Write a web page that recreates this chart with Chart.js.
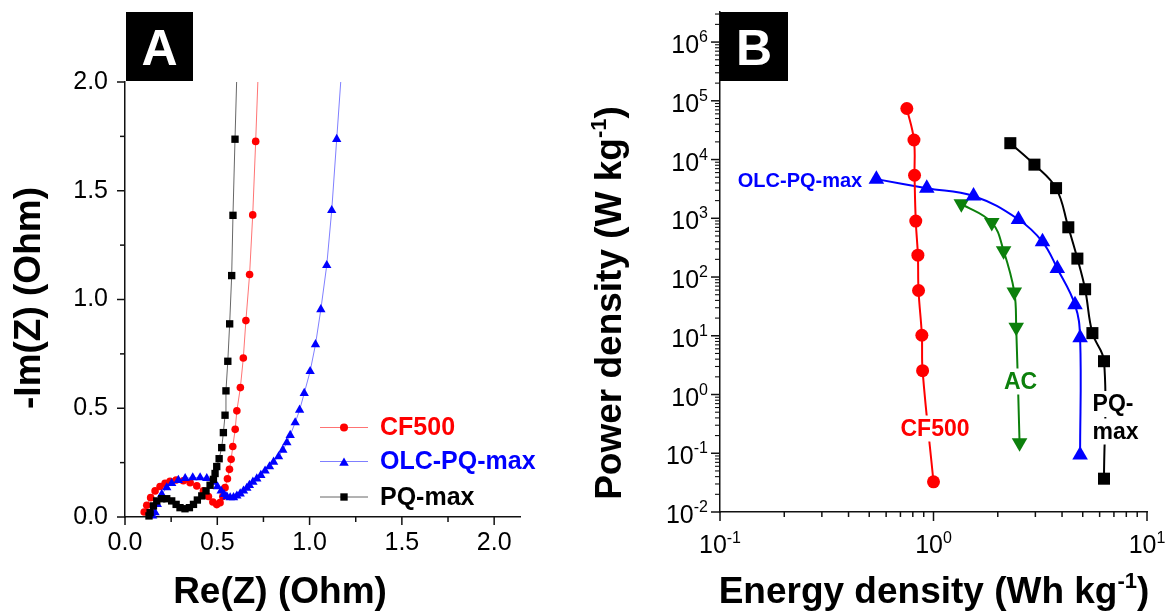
<!DOCTYPE html>
<html><head><meta charset="utf-8">
<script src="https://cdn.jsdelivr.net/npm/chart.js@4/dist/chart.umd.min.js"></script>
<style>
html,body{margin:0;padding:0;background:#fff;}
#wrap{position:relative;width:1170px;height:614px;overflow:hidden;background:#fff;}
#ca{position:absolute;left:0;top:0;}
#cb{position:absolute;left:560px;top:0;}
</style></head><body>
<div id="wrap"><canvas id="ca" width="560" height="614"></canvas><canvas id="cb" width="610" height="614"></canvas></div>
<script>
// ---------- Panel A : Nyquist data (Ohm) ----------
const cfRe = [0.104,0.118,0.139,0.163,0.190,0.217,0.244,0.277,0.316,0.353,0.389,0.425,0.452,0.476,0.497,0.515,0.530,0.542,0.555,0.566,0.575,0.584,0.597,0.606,0.625,0.641,0.655,0.675,0.692,0.708,0.724];
const cfIm = [0.023,0.054,0.089,0.120,0.140,0.155,0.164,0.170,0.167,0.158,0.143,0.120,0.094,0.069,0.057,0.066,0.094,0.135,0.176,0.219,0.265,0.324,0.403,0.488,0.595,0.731,0.903,1.115,1.389,1.727,2.100];
const olcRe = [0.150,0.163,0.175,0.199,0.226,0.253,0.289,0.326,0.367,0.407,0.443,0.479,0.501,0.521,0.537,0.552,0.570,0.588,0.606,0.624,0.642,0.660,0.674,0.693,0.714,0.736,0.759,0.783,0.805,0.832,0.855,0.877,0.895,0.922,0.946,0.971,1.003,1.032,1.061,1.093,1.120,1.147,1.177];
const olcIm = [0.005,0.020,0.058,0.104,0.135,0.155,0.169,0.178,0.181,0.181,0.178,0.161,0.140,0.120,0.104,0.094,0.089,0.090,0.097,0.107,0.120,0.133,0.146,0.161,0.176,0.192,0.212,0.232,0.253,0.278,0.308,0.342,0.376,0.434,0.492,0.569,0.670,0.793,0.954,1.157,1.410,1.737,2.100];
const pqRe = [0.130,0.136,0.154,0.172,0.199,0.226,0.253,0.277,0.298,0.325,0.349,0.371,0.392,0.416,0.439,0.461,0.479,0.488,0.497,0.510,0.524,0.533,0.542,0.547,0.557,0.567,0.578,0.585,0.596,0.608];
const pqIm = [0.005,0.020,0.051,0.074,0.084,0.084,0.074,0.058,0.043,0.038,0.043,0.058,0.078,0.097,0.120,0.146,0.173,0.200,0.232,0.268,0.319,0.388,0.468,0.580,0.716,0.888,1.110,1.387,1.737,2.100];
const aSeriesNames = ['CF500','OLC-PQ-max','PQ-max'];
const aTickLabels = ['0.0','0.5','1.0','1.5','2.0'];
const aMinorStep = 0.25;

// ---------- Panel B : Ragone data ----------
const cfE = [0.75,0.81,0.815,0.826,0.845,0.851,0.882,0.889,1.0];
const cfP = [7.4e4,2.15e4,5.4e3,898,236,59,10.2,2.55,0.0326];
const olcE = [0.54,0.93,1.54,2.50,3.24,3.80,4.60,4.86,4.86];
const olcP = [4640,3260,2400,955,398,140,33.6,9.26,0.093];
const acE = [1.35,1.875,2.13,2.39,2.44,2.53];
const acP = [1765,845,280,55.8,14.0,0.151];
const pqE = [2.29,2.97,3.75,4.28,4.72,5.13,5.55,6.29,6.29];
const pqP = [1.9e4,8190,3260,703,206,62,11.1,3.69,0.0369];
const bXExponents = [-1,0,1];
const bYExponents = [-2,-1,0,1,2,3,4,5,6];
const bLabels = ['OLC-PQ-max','CF500','AC','PQ-','max'];

// ---------- styling ----------
const FONT = '"Liberation Sans", Arial, Helvetica, sans-serif';
Chart.defaults.font.family = FONT;
const RED = '#ff0000', BLUE = '#0000ff', BLACK = '#000000', GREEN = '#0c800c';
const xy = (xs, ys) => xs.map((x, i) => ({x, y: ys[i]}));

function marker(ctx, style, x, y, r, color, rot) {
  ctx.save(); ctx.fillStyle = color; ctx.beginPath();
  if (style === 'circle') { ctx.arc(x, y, r, 0, Math.PI * 2); }
  else if (style === 'rect') { const s = r * Math.SQRT1_2; ctx.rect(x - s, y - s, 2 * s, 2 * s); }
  else { let a = (rot || 0) * Math.PI / 180;
    ctx.moveTo(x + Math.sin(a) * r, y - Math.cos(a) * r);
    a += 2 * Math.PI / 3; ctx.lineTo(x + Math.sin(a) * r, y - Math.cos(a) * r);
    a += 2 * Math.PI / 3; ctx.lineTo(x + Math.sin(a) * r, y - Math.cos(a) * r); ctx.closePath(); }
  ctx.fill(); ctx.restore();
}
function drawRich(ctx, parts, cx, baseY, baseFont, supFont, raise, color, align) {
  ctx.fillStyle = color; ctx.textBaseline = 'alphabetic'; ctx.textAlign = 'left';
  let total = 0;
  const ws = parts.map(p => { ctx.font = p.sup ? supFont : baseFont; const w = ctx.measureText(p.t).width; total += w; return w; });
  let x = align === 'center' ? cx - total / 2 : (align === 'right' ? cx - total : cx);
  parts.forEach((p, i) => { ctx.font = p.sup ? supFont : baseFont; ctx.fillText(p.t, x, p.sup ? baseY - raise : baseY); x += ws[i]; });
}
function seg(ctx, x1, y1, x2, y2) { ctx.beginPath(); ctx.moveTo(x1, y1); ctx.lineTo(x2, y2); ctx.stroke(); }
function panelBox(ctx, x, y, w, h, letter) {
  ctx.fillStyle = '#000'; ctx.fillRect(x, y, w, h);
  ctx.fillStyle = '#fff'; ctx.font = 'bold 50px ' + FONT; ctx.textAlign = 'center'; ctx.textBaseline = 'alphabetic';
  ctx.fillText(letter, x + w / 2, y + h / 2 + 18);
}

// ---------- Chart A ----------
const plugA = {
  id: 'decorA',
  afterDraw(chart) {
    const ctx = chart.ctx, xs = chart.scales.x, ys = chart.scales.y, ca = chart.chartArea;
    ctx.save();
    ctx.strokeStyle = '#111'; ctx.lineWidth = 1.5;
    const nx = Math.round(2.0 / aMinorStep);
    for (let i = 0; i <= nx; i++) {
      const v = i * aMinorStep, len = (i % 2 === 0) ? 8 : 5;
      const px = xs.getPixelForValue(v); seg(ctx, px, ca.bottom, px, ca.bottom + len);
      const py = ys.getPixelForValue(v); seg(ctx, ca.left, py, ca.left - len, py);
    }
    // legend
    const rows = [427.5, 461.5, 497];
    const cols = [RED, BLUE, BLACK], lcols = ['rgba(255,0,0,0.55)', 'rgba(0,0,255,0.5)', 'rgba(0,0,0,0.6)'];
    const styles = ['circle', 'triangle', 'rect'], rads = [4, 5.5, 5.2];
    aSeriesNames.forEach((name, i) => {
      ctx.strokeStyle = lcols[i]; ctx.lineWidth = 1; seg(ctx, 320, rows[i], 368, rows[i]);
      marker(ctx, styles[i], 344, rows[i] + (styles[i] === 'triangle' ? 1.5 : 0), rads[i], cols[i], 0);
      ctx.fillStyle = cols[i]; ctx.font = 'bold 25px ' + FONT; ctx.textAlign = 'left'; ctx.textBaseline = 'middle';
      ctx.fillText(name, 380, rows[i] + 1);
    });
    // titles
    drawRich(ctx, [{t: 'Re(Z) (Ohm)'}], 280, 603, 'bold 37px ' + FONT, 'bold 22px ' + FONT, 14, '#000', 'center');
    ctx.save(); ctx.translate(40, 298); ctx.rotate(-Math.PI / 2);
    drawRich(ctx, [{t: '-Im(Z) (Ohm)'}], 0, 0, 'bold 37px ' + FONT, 'bold 22px ' + FONT, 14, '#000', 'center');
    ctx.restore();
    panelBox(ctx, 126, 12, 67, 69, 'A');
    ctx.restore();
  }
};
const aLine = (data, lc, pc, style, r) => ({
  data, showLine: true, borderColor: lc, borderWidth: 1, tension: 0,
  pointStyle: style, pointRadius: r, pointBackgroundColor: pc, pointBorderColor: pc, pointBorderWidth: 0,
  clip: {left: 10, right: 10, top: 0, bottom: 10}
});
new Chart(document.getElementById('ca'), {
  type: 'scatter',
  data: { datasets: [
    aLine(xy(pqRe, pqIm), 'rgba(0,0,0,0.6)', BLACK, 'rect', 5.2),
    aLine(xy(olcRe, olcIm), 'rgba(0,0,255,0.5)', BLUE, 'triangle', 5.4),
    aLine(xy(cfRe, cfIm), 'rgba(255,0,0,0.55)', RED, 'circle', 3.8)
  ]},
  options: {
    responsive: false, animation: false, events: [],
    layout: { padding: {top: 82, right: 40, left: 0, bottom: 0} },
    plugins: { legend: {display: false}, tooltip: {enabled: false} },
    scales: {
      x: { type: 'linear', min: 0, max: 2.14,
        ticks: { stepSize: 0.5, includeBounds: false, autoSkip: false, maxRotation: 0, padding: 11,
          font: {size: 25, family: FONT}, color: '#000',
          callback: (v) => { const i = Math.round(v / 0.5); return Math.abs(v - i * 0.5) < 1e-6 ? aTickLabels[i] : ''; } },
        grid: { display: false, drawTicks: false, tickLength: 0 },
        border: { display: true, color: '#111', width: 1.5 },
        afterFit(s) { s.height = 97; } },
      y: { type: 'linear', min: 0, max: 2.0,
        ticks: { stepSize: 0.5, autoSkip: false, padding: 17, font: {size: 25, family: FONT}, color: '#000',
          callback: (v) => { const i = Math.round(v / 0.5); return Math.abs(v - i * 0.5) < 1e-6 ? aTickLabels[i] : ''; } },
        grid: { display: false, drawTicks: false, tickLength: 0 },
        border: { display: true, color: '#111', width: 1.5 },
        afterFit(s) { s.width = 125; } }
    }
  },
  plugins: [plugA]
});

// ---------- Chart B ----------
const OFFB = 560;
const plugB = {
  id: 'decorB',
  afterDatasetsDraw(chart) {
    const ctx = chart.ctx;
    const items = [
      {t: bLabels[0], x: 800, y: 180, c: BLUE, f: 'bold 20px '},
      {t: bLabels[1], x: 935, y: 428.5, c: RED, f: 'bold 23px '},
      {t: bLabels[2], x: 1020.5, y: 381.5, c: GREEN, f: 'bold 23px '},
      {t: bLabels[3], x: 1113, y: 404, c: BLACK, f: 'bold 23px '},
      {t: bLabels[4], x: 1115.5, y: 431.5, c: BLACK, f: 'bold 23px '}
    ];
    ctx.save();
    items.forEach(it => {
      ctx.font = it.f + FONT; const w = ctx.measureText(it.t).width;
      ctx.fillStyle = '#fff'; ctx.fillRect(it.x - OFFB - w / 2 - 3, it.y - 13, w + 6, 26);
    });
    items.forEach(it => {
      ctx.font = it.f + FONT; ctx.fillStyle = it.c; ctx.textAlign = 'center'; ctx.textBaseline = 'middle';
      ctx.fillText(it.t, it.x - OFFB, it.y + 1);
    });
    ctx.restore();
  },
  afterDraw(chart) {
    const ctx = chart.ctx, xs = chart.scales.x, ys = chart.scales.y, ca = chart.chartArea;
    ctx.save();
    ctx.strokeStyle = '#111'; ctx.lineWidth = 1.5;
    bXExponents.forEach((e, idx) => {
      const d = Math.pow(10, e);
      const px = xs.getPixelForValue(d); seg(ctx, px, ca.bottom, px, ca.bottom + 9);
      if (idx < bXExponents.length - 1) for (let k = 2; k <= 9; k++) { const p = xs.getPixelForValue(k * d); seg(ctx, p, ca.bottom, p, ca.bottom + 5); }
    });
    bYExponents.forEach(e => {
      const d = Math.pow(10, e);
      const py = ys.getPixelForValue(d); ctx.lineWidth = 1.5; seg(ctx, ca.left, py, ca.left - 9, py);
      ctx.lineWidth = 1.1;
      for (let k = 2; k <= 9; k++) { const v = k * d; if (v > ys.max) break; const p = ys.getPixelForValue(v); seg(ctx, ca.left, p, ca.left - 5, p); }
    });
    const bf = '25px ' + FONT, sf = '16px ' + FONT;
    bXExponents.forEach(e => {
      const px = xs.getPixelForValue(Math.pow(10, e));
      drawRich(ctx, [{t: '10'}, {t: String(e), sup: true}], px, 553, bf, sf, 10, '#000', 'center');
    });
    bYExponents.forEach(e => {
      const py = ys.getPixelForValue(Math.pow(10, e));
      drawRich(ctx, [{t: '10'}, {t: String(e), sup: true}], 708 - OFFB, py + 11, bf, sf, 11, '#000', 'right');
    });
    drawRich(ctx, [{t: 'Energy density (Wh kg'}, {t: '-1', sup: true}, {t: ')'}], 934 - OFFB, 603, 'bold 37px ' + FONT, 'bold 22px ' + FONT, 15, '#000', 'center');
    ctx.save(); ctx.translate(621 - OFFB, 303); ctx.rotate(-Math.PI / 2);
    drawRich(ctx, [{t: 'Power density (W kg'}, {t: '-1', sup: true}, {t: ')'}], 0, 0, 'bold 37px ' + FONT, 'bold 22px ' + FONT, 15, '#000', 'center');
    ctx.restore();
    panelBox(ctx, 720 - OFFB, 12, 68, 69, 'B');
    ctx.restore();
  }
};
const bLine = (data, col, style, r, rot) => ({
  data, showLine: true, borderColor: col, borderWidth: 2, tension: 0.4,
  pointStyle: style, pointRadius: r, pointRotation: rot || 0,
  pointBackgroundColor: col, pointBorderColor: col, pointBorderWidth: 0
});
new Chart(document.getElementById('cb'), {
  type: 'scatter',
  data: { datasets: [
    bLine(xy(cfE, cfP), RED, 'circle', 6.5),
    bLine(xy(olcE, olcP), BLUE, 'triangle', 9),
    bLine(xy(acE, acP), GREEN, 'triangle', 9, 180),
    bLine(xy(pqE, pqP), BLACK, 'rect', 8.5)
  ]},
  options: {
    responsive: false, animation: false, events: [],
    layout: { padding: {top: 12, right: 23, left: 0, bottom: 0} },
    plugins: { legend: {display: false}, tooltip: {enabled: false} },
    scales: {
      x: { type: 'logarithmic', min: 0.1, max: 10, ticks: {display: false},
        grid: {display: false, drawTicks: false, tickLength: 0},
        border: {display: true, color: '#111', width: 1.5},
        afterFit(s) { s.height = 102; } },
      y: { type: 'logarithmic', min: 0.01, max: 3.25e6, ticks: {display: false},
        grid: {display: false, drawTicks: false, tickLength: 0},
        border: {display: true, color: '#111', width: 1.5},
        afterFit(s) { s.width = 160; } }
    }
  },
  plugins: [plugB]
});
</script>
</body></html>
